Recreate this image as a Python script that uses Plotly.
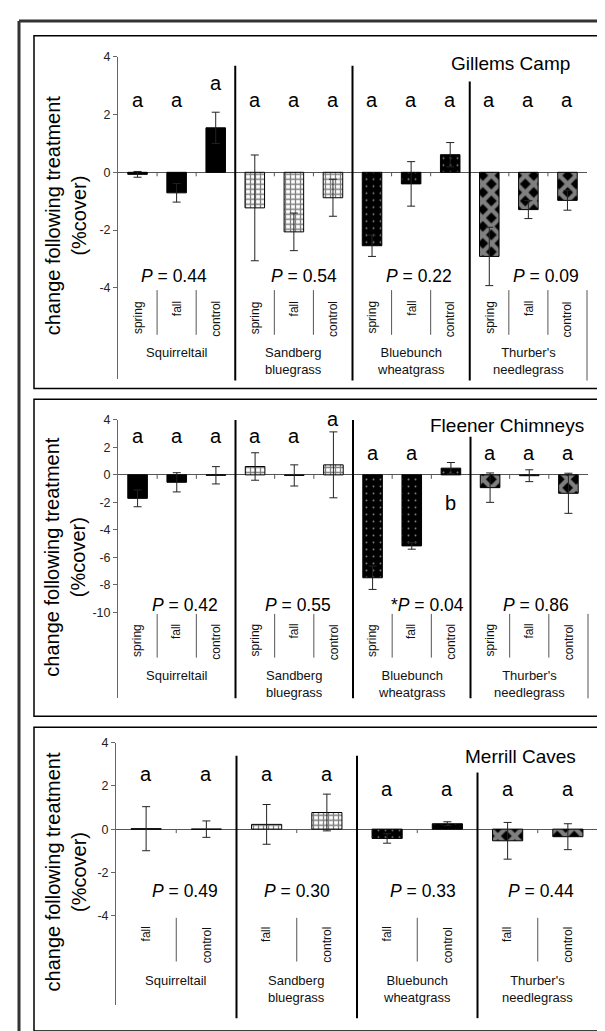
import plotly.graph_objects as go

W, H = 605, 1031
FONT = "Liberation Sans, Arial, sans-serif"

# ---------------- data ----------------
species = ["Squirreltail", "Sandberg<br>bluegrass", "Bluebunch<br>wheatgrass", "Thurber's<br>needlegrass"]
treat_3 = ["spring", "fall", "control"]
treat_2 = ["fall", "control"]
sites = ["Gillems Camp", "Fleener Chimneys", "Merrill Caves"]

gillems_mean = [-0.07, -0.71, 1.54, -1.23, -2.06, -0.88, -2.54, -0.40, 0.61, -2.91, -1.29, -0.97]
gillems_se = [0.10, 0.32, 0.54, 1.83, 0.65, 0.64, 0.37, 0.77, 0.42, 1.01, 0.31, 0.34]
gillems_letters = ["a"] * 12
gillems_letter_y = [2.45, 2.45, 3.03, 2.45, 2.45, 2.45, 2.45, 2.45, 2.45, 2.45, 2.45, 2.45]
gillems_p = ["<i>P</i> = 0.44", "<i>P</i> = 0.54", "<i>P</i> = 0.22", "<i>P</i> = 0.09"]
gillems_ticks = [4, 2, 0, -2, -4]

fleener_mean = [-1.71, -0.54, -0.03, 0.61, -0.04, 0.73, -7.49, -5.17, 0.49, -0.93, -0.06, -1.34]
fleener_se = [0.61, 0.70, 0.63, 1.00, 0.77, 2.40, 0.85, 0.24, 0.41, 1.07, 0.43, 1.46]
fleener_letters = ["a", "a", "a", "a", "a", "a", "a", "a", "b", "a", "a", "a"]
fleener_letter_y = [2.7, 2.7, 2.7, 2.7, 2.7, 3.98, 1.49, 1.49, -2.17, 1.49, 1.49, 1.49]
fleener_p = ["<i>P</i> = 0.42", "<i>P</i> = 0.55", "*<i>P</i> = 0.04", "<i>P</i> = 0.86"]
fleener_ticks = [4, 2, 0, -2, -4, -6, -8, -10]

merrill_mean = [0.02, 0.00, 0.22, 0.77, -0.43, 0.25, -0.54, -0.35]
merrill_se = [1.02, 0.38, 0.92, 0.85, 0.22, 0.09, 0.85, 0.60]
merrill_letters = ["a"] * 8
merrill_letter_y = [2.48, 2.48, 2.48, 2.48, 1.76, 1.76, 1.76, 1.76]
merrill_p = ["<i>P</i> = 0.49", "<i>P</i> = 0.30", "<i>P</i> = 0.33", "<i>P</i> = 0.44"]
merrill_ticks = [4, 2, 0, -2, -4]

panels_data = [
    dict(mean=gillems_mean, se=gillems_se, letters=gillems_letters, ly=gillems_letter_y,
         p=gillems_p, ticks=gillems_ticks, treats=treat_3),
    dict(mean=fleener_mean, se=fleener_se, letters=fleener_letters, ly=fleener_letter_y,
         p=fleener_p, ticks=fleener_ticks, treats=treat_3),
    dict(mean=merrill_mean, se=merrill_se, letters=merrill_letters, ly=merrill_letter_y,
         p=merrill_p, ticks=merrill_ticks, treats=treat_2),
]

# ---------------- geometry (pixels) ----------------
geom = [
    dict(box=(26, 21, 590, 376), x0=110, x1=579, ytop=42, scale=29.1, ybot=366,
         div_top=[3.69, 3.69, 3.14], div_bot=368, lab_top=277, rot_top=286, inner_bot=322,
         grp_top=330.5, p_y=-3.57, p_x=[0.93, 4.27, 7.2, 10.46], title_xr=564, title_y=49),
    dict(box=(26, 387, 590, 706), x0=110, x1=580, ytop=407.7, scale=13.83, ybot=688,
         div_top=[4.0, 4.0, 2.77], div_bot=688, lab_top=603, rot_top=611, inner_bot=647,
         grp_top=655.5, p_y=-9.46, p_x=[1.22, 4.1, 7.39, 10.17], title_xr=578, title_y=413),
    dict(box=(26, 717, 590, 1023), x0=108, x1=590, ytop=732.7, scale=21.75, ybot=997,
         div_top=[3.4, 3.4, 2.62], div_bot=1010, lab_top=909, rot_top=916, inner_bot=953,
         grp_top=962.5, p_y=-2.88, p_x=[0.65, 2.5, 4.6, 6.56], title_xr=570, title_y=747),
]

styles = [
    dict(color="black"),
    dict(color="white", pattern=dict(shape="+", fgcolor="black", bgcolor="white", size=5, solidity=0.45)),
    dict(color="black", pattern=dict(shape=".", fgcolor="white", bgcolor="black", size=7, solidity=0.06)),
    dict(color="black", pattern=dict(shape="x", fgcolor="white", bgcolor="black", size=12, solidity=0.6)),
]

fig = go.Figure()
shapes = []
annotations = []


def YP(py):
    return 1 - py / H


for i, (d, g) in enumerate(zip(panels_data, geom)):
    s = "" if i == 0 else str(i + 1)
    k = len(d["treats"])
    n = k * len(species)

    def X(xv, g=g, n=n):
        return (g["x0"] + (xv + 0.5) * (g["x1"] - g["x0"]) / n) / W

    def Y(yv, g=g):
        return YP(g["ytop"] + (4 - yv) * g["scale"])

    def Ypx(yv, g=g):
        return g["ytop"] + (4 - yv) * g["scale"]

    ymin = 4 - (g["ybot"] - g["ytop"]) / g["scale"]

    for gi in range(len(species)):
        idx = [gi * k + j for j in range(k)]
        st = styles[gi]
        marker = dict(color=st["color"], line=dict(color="black", width=1))
        if "pattern" in st:
            marker["pattern"] = st["pattern"]
        fig.add_trace(go.Bar(
            x=idx, y=[d["mean"][j] for j in idx], width=0.5, marker=marker,
            error_y=dict(type="data", array=[d["se"][j] for j in idx], visible=True,
                         color="#222", thickness=1, width=4),
            xaxis="x" + s, yaxis="y" + s, showlegend=False, hoverinfo="skip"))

    fig.layout["xaxis" + s] = dict(domain=[g["x0"] / W, g["x1"] / W], range=[-0.5, n - 0.5],
                                   visible=False, anchor="y" + s, fixedrange=True)
    fig.layout["yaxis" + s] = dict(domain=[YP(g["ybot"]), YP(g["ytop"])], range=[ymin, 4],
                                   tickvals=d["ticks"], ticktext=[str(t) for t in d["ticks"]],
                                   ticks="outside", ticklen=4, tickcolor="#666", showline=True,
                                   linecolor="#666", linewidth=1, showgrid=False,
                                   zeroline=True, zerolinecolor="#555", zerolinewidth=1,
                                   tickfont=dict(family=FONT, size=12.5, color="#222"),
                                   anchor="x" + s, fixedrange=True)

    # panel box
    bx0, by0, bx1, by1 = g["box"]
    shapes.append(dict(type="rect", xref="paper", yref="paper", x0=bx0 / W, x1=bx1 / W,
                       y0=YP(by0), y1=YP(by1), line=dict(color="black", width=1.5)))

    # ticks on zero line at category boundaries
    for b in range(n - 1):
        shapes.append(dict(type="line", xref="paper", yref="paper", x0=X(b + 0.5), x1=X(b + 0.5),
                           y0=Y(0), y1=YP(Ypx(0) + 4), line=dict(color="#555", width=1)))

    # group dividers
    for gi in range(len(species) - 1):
        xv = (gi + 1) * k - 0.5
        shapes.append(dict(type="line", xref="paper", yref="paper", x0=X(xv), x1=X(xv),
                           y0=Y(g["div_top"][gi]), y1=YP(g["div_bot"]),
                           line=dict(color="black", width=2)))
    # right end of category axis
    shapes.append(dict(type="line", xref="paper", yref="paper", x0=X(n - 0.5), x1=X(n - 0.5),
                       y0=YP(g["lab_top"]), y1=YP(g["div_bot"]), line=dict(color="#555", width=1)))
    # inner treatment dividers
    for gi in range(len(species)):
        for j in range(k - 1):
            xv = gi * k + j + 0.5
            shapes.append(dict(type="line", xref="paper", yref="paper", x0=X(xv), x1=X(xv),
                               y0=YP(g["lab_top"]), y1=YP(g["inner_bot"]),
                               line=dict(color="#555", width=1)))

    # rotated treatment labels
    for c in range(n):
        annotations.append(dict(x=X(c), y=YP(g["rot_top"]), xref="paper", yref="paper",
                                text=d["treats"][c % k], textangle=-90, showarrow=False,
                                xanchor="center", yanchor="top",
                                font=dict(family=FONT, size=12, color="#111")))
    # species labels
    for gi, sp in enumerate(species):
        annotations.append(dict(x=X(gi * k + (k - 1) / 2), y=YP(g["grp_top"]), xref="paper",
                                yref="paper", text=sp, showarrow=False, xanchor="center",
                                yanchor="top", font=dict(family=FONT, size=13, color="#111")))
    # letters
    for c in range(n):
        annotations.append(dict(x=X(c), y=YP(Ypx(d["ly"][c]) - 1.7), xref="paper", yref="paper",
                                text=d["letters"][c], showarrow=False, xanchor="center",
                                yanchor="middle", font=dict(family=FONT, size=20, color="black")))
    # P values
    for gi, pt in enumerate(d["p"]):
        annotations.append(dict(x=X(g["p_x"][gi]), y=Y(g["p_y"]), xref="paper", yref="paper",
                                text=pt, showarrow=False, xanchor="center", yanchor="middle",
                                font=dict(family=FONT, size=17.5, color="black")))
    # site title
    annotations.append(dict(x=g["title_xr"] / W, y=YP(g["title_y"]), xref="paper", yref="paper",
                            text=sites[i], showarrow=False, xanchor="right", yanchor="middle",
                            font=dict(family=FONT, size=19, color="black")))
    # y axis title
    annotations.append(dict(x=57.5 / W, y=YP((g["ytop"] + g["ybot"]) / 2 - 2), xref="paper",
                            yref="paper", text="change following treatment<br>(%cover)",
                            textangle=-90, showarrow=False, xanchor="center", yanchor="middle",
                            font=dict(family=FONT, size=20, color="black")))

# outer frame (top and left edges visible)
shapes.append(dict(type="line", xref="paper", yref="paper", x0=11 / W, x1=1.02,
                   y0=YP(6), y1=YP(6), line=dict(color="#333", width=3)))
shapes.append(dict(type="line", xref="paper", yref="paper", x0=11 / W, x1=11 / W,
                   y0=YP(6), y1=-0.02, line=dict(color="#333", width=3)))

fig.update_layout(width=W, height=H, margin=dict(l=0, r=0, t=0, b=0),
                  paper_bgcolor="white", plot_bgcolor="rgba(0,0,0,0)",
                  barmode="overlay", shapes=shapes, annotations=annotations,
                  font=dict(family=FONT, color="black"))

fig.write_html("out.html")
